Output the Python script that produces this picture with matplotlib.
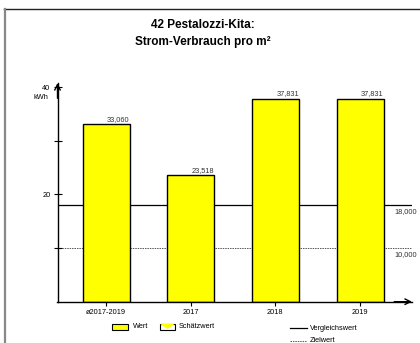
import matplotlib
matplotlib.use("Agg")
import matplotlib.pyplot as plt
from matplotlib.lines import Line2D
from matplotlib.patches import Rectangle, Polygon

plt.rcParams['font.family'] = ['Liberation Sans', 'DejaVu Sans']

# data
categories = ["ø2017-2019", "2017", "2018", "2019"]
werte = [33.060, 23.518, 37.831, 37.831]
wert_labels = ["33,060", "23,518", "37,831", "37,831"]
vergleichswert = 18.0
zielwert = 10.0

W, H = 420, 343
fig = plt.figure(figsize=(W / 100, H / 100), dpi=100)

# axes box in pixels: x 57.5..412, y 83..301.7
ax = fig.add_axes([57.5 / W, (H - 301.7) / H, (412 - 57.5) / W, (301.7 - 83) / H])
x = list(range(len(categories)))
ax.bar(x, werte, width=0.555, color="#ffff00", edgecolor="black", linewidth=1, zorder=2)
ax.set_xlim(-0.573, 3.614)
ax.set_ylim(0, 40.75)

for xi, v, lab in zip(x, werte, wert_labels):
    ax.text(xi + 0.28, v + 0.3, lab, ha="right", va="bottom", fontsize=5.3, color="#333333")

ax.plot([-0.573, 3.6], [vergleichswert] * 2, color="black", lw=0.9, zorder=1)
ax.plot([-0.573, 3.6], [zielwert] * 2, color="#555555", lw=0.7, ls=(0, (1.5, 1)), zorder=1)
ax.text(3.41, vergleichswert - 0.6, "18,000", ha="left", va="top", fontsize=5.3, color="#333333")
ax.text(3.41, zielwert - 0.6, "10,000", ha="left", va="top", fontsize=5.3, color="#333333")

for s in ["top", "right"]:
    ax.spines[s].set_visible(False)
for s in ["left", "bottom"]:
    ax.spines[s].set_linewidth(1.0)

ax.set_yticks([20, 40])
ax.set_yticklabels(["20", "40"], fontsize=5.3)
ax.set_yticks([10, 30], minor=True)
ax.tick_params(axis="y", which="both", direction="inout", length=6, width=0.8, pad=2)
ax.set_xticks(x)
ax.set_xticklabels(categories, fontsize=5.3)
ax.tick_params(axis="x", direction="out", length=3, width=0.8, pad=2)
ax.text(-0.77, 38.0, "kWh", ha="center", va="center", fontsize=5.3)

# arrow heads
ax.annotate("", xy=(1.0, 0), xycoords="axes fraction", xytext=(0.95, 0),
            arrowprops=dict(arrowstyle="->", lw=1.0, color="black", shrinkA=0, shrinkB=0))
ax.annotate("", xy=(0, 1.0), xycoords="axes fraction", xytext=(0, 0.93),
            arrowprops=dict(arrowstyle="->", lw=1.0, color="black", shrinkA=0, shrinkB=0))

# title
fig.text(203 / W, 1 - 25 / H, "42 Pestalozzi-Kita:", ha="center", va="center",
         fontsize=8.5, fontweight="bold")
fig.text(203 / W, 1 - 42 / H, "Strom-Verbrauch pro m²", ha="center", va="center",
         fontsize=8.5, fontweight="bold")

# frame lines
fig.add_artist(Line2D([4 / W, 1], [1 - 9 / H] * 2, color="#222222", lw=1.0))
fig.add_artist(Line2D([4.5 / W] * 2, [0, 1 - 9 / H], color="#888888", lw=1.6))

# legend
def px(xp, yp):
    return xp / W, 1 - yp / H

fig.add_artist(Rectangle(px(112, 329.5), 16 / W, 6 / H, facecolor="#ffff00",
                         edgecolor="black", lw=0.8))
fig.text(*px(133, 326.5), "Wert", fontsize=5.3, va="center")
fig.add_artist(Rectangle(px(160, 329.5), 15 / W, 6 / H, facecolor="white",
                         edgecolor="black", lw=0.8))
fig.add_artist(Polygon([px(160.5, 324), px(174.5, 324), px(167.5, 329)],
                       closed=True, facecolor="#ffff00", edgecolor="none"))
fig.text(*px(179, 326.5), "Schätzwert", fontsize=5.3, va="center")
fig.add_artist(Line2D([290 / W, 307 / W], [1 - 328 / H] * 2, color="black", lw=0.9))
fig.text(*px(310, 328), "Vergleichswert", fontsize=5.3, va="center")
fig.add_artist(Line2D([290 / W, 307 / W], [1 - 341 / H] * 2, color="#555555", lw=0.7,
                      ls=(0, (1.5, 1))))
fig.text(*px(310, 340.5), "Zielwert", fontsize=5.3, va="center")

fig.savefig("out.png", dpi=100)
